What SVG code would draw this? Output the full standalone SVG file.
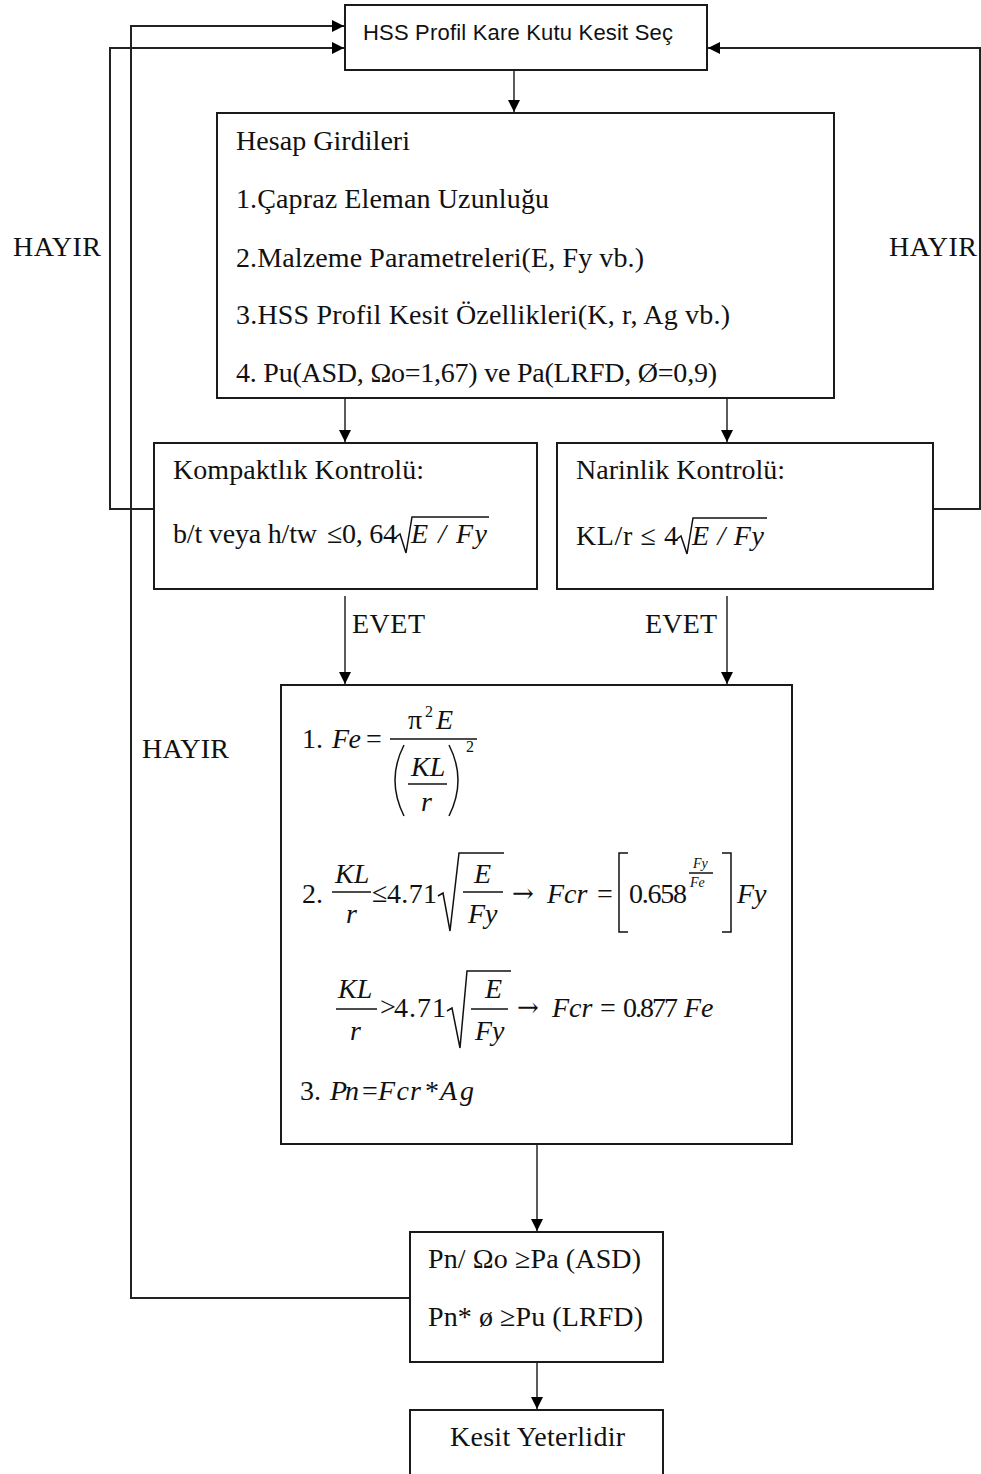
<svg xmlns="http://www.w3.org/2000/svg" width="981" height="1474" viewBox="0 0 981 1474">
<style>
.box{fill:#fff;stroke:#1a1a1a;stroke-width:2}
.con{fill:none;stroke:#333;stroke-width:1.6}
.loop{fill:none;stroke:#222;stroke-width:2}
.t{font-family:"Liberation Serif","Times New Roman",serif;font-size:28px;fill:#111}
.s{font-family:"Liberation Sans",Arial,sans-serif;font-size:22px;fill:#111}
.i{font-style:italic}
.sm{font-size:16px}
.xs{font-size:14px}
.ar{font-family:"DejaVu Serif",serif;font-size:26px}
.bar{stroke:#111;stroke-width:1.5;fill:none}
</style>
<defs>
<marker id="ah" viewBox="0 0 10 10" refX="10" refY="5" markerWidth="12" markerHeight="12" markerUnits="userSpaceOnUse" orient="auto">
<path d="M0,0 L10,5 L0,10 z" fill="#000"/>
</marker>
</defs>
<rect width="981" height="1474" fill="#fff"/>

<g id="connectors">
<path class="con" d="M514,70 V112" marker-end="url(#ah)"/>
<path class="con" d="M345,398 V442" marker-end="url(#ah)"/>
<path class="con" d="M727,398 V442" marker-end="url(#ah)"/>
<path class="con" d="M345,596 V684" marker-end="url(#ah)"/>
<path class="con" d="M727,596 V684" marker-end="url(#ah)"/>
<path class="con" d="M537,1144 V1231" marker-end="url(#ah)"/>
<path class="con" d="M537,1362 V1409" marker-end="url(#ah)"/>
<path class="loop" d="M154,509 H110 V48 H344" marker-end="url(#ah)"/>
<path class="loop" d="M410,1298 H131 V26 H344" marker-end="url(#ah)"/>
<path class="loop" d="M933,509 H980 V48 H708" marker-end="url(#ah)"/>
<text class="t" x="13" y="256" textLength="88">HAYIR</text>
<text class="t" x="889" y="256" textLength="88">HAYIR</text>
<text class="t" x="142" y="758" textLength="87">HAYIR</text>
<text class="t" x="352" y="633" textLength="73">EVET</text>
<text class="t" x="645" y="633" textLength="72">EVET</text>
</g>

<g id="select">
<rect class="box" x="345" y="5" width="362" height="65"/>
<text class="s" x="363" y="40" textLength="310">HSS Profil Kare Kutu Kesit Seç</text>
</g>

<g id="inputs">
<rect class="box" x="217" y="113" width="617" height="285"/>
<text class="t" x="236" y="150" textLength="174">Hesap Girdileri</text>
<text class="t" x="236" y="208" textLength="313">1.Çapraz Eleman Uzunluğu</text>
<text class="t" x="236" y="267" textLength="408">2.Malzeme Parametreleri(E, Fy vb.)</text>
<text class="t" x="236" y="324" textLength="494">3.HSS Profil Kesit Özellikleri(K, r, Ag vb.)</text>
<text class="t" x="236" y="382" textLength="481">4. Pu(ASD, Ωo=1,67) ve Pa(LRFD, Ø=0,9)</text>
</g>

<g id="compact">
<rect class="box" x="154" y="443" width="383" height="146"/>
<text class="t" x="173" y="479" textLength="251">Kompaktlık Kontrolü:</text>
<text class="t" x="173" y="543" textLength="144">b/t veya h/tw</text>
<text class="t" x="327" y="543" textLength="70">≤0, 64</text>
<path class="bar" d="M396,537 L400,534 L406,553 L412,517 H489"/>
<text class="t i" x="411" y="543" textLength="76">E / Fy</text>
</g>

<g id="slender">
<rect class="box" x="557" y="443" width="376" height="146"/>
<text class="t" x="576" y="479" textLength="209">Narinlik Kontrolü:</text>
<text class="t" x="576" y="545" textLength="102">KL/r ≤ 4</text>
<path class="bar" d="M677,539 L681,536 L687,554 L693,518 H767"/>
<text class="t i" x="692" y="545" textLength="72">E / Fy</text>
</g>

<g id="formulas">
<rect class="box" x="281" y="685" width="511" height="459"/>
<!-- 1 -->
<text class="t" x="302" y="748">1.</text>
<text class="t i" x="332" y="748" textLength="29">Fe</text>
<text class="t" x="366" y="748">=</text>
<text class="t" x="408" y="729">π</text>
<text class="t sm" x="425" y="717">2</text>
<text class="t i" x="436" y="729">E</text>
<line class="bar" x1="390" y1="739" x2="477" y2="739"/>
<path class="bar" d="M404,745 Q386,780 404,816"/>
<path class="bar" d="M449,745 Q467,780 449,816"/>
<text class="t i" x="411" y="776">KL</text>
<line class="bar" x1="408" y1="784" x2="447" y2="784"/>
<text class="t i" x="421" y="811">r</text>
<text class="t sm" x="466" y="752">2</text>
<!-- 2 -->
<text class="t" x="302" y="903">2.</text>
<text class="t i" x="335" y="883">KL</text>
<line class="bar" x1="332" y1="892" x2="371" y2="892"/>
<text class="t i" x="346" y="923">r</text>
<text class="t" x="372" y="902" font-size="20">≤</text>
<text class="t" x="387" y="903" textLength="50">4.71</text>
<path class="bar" d="M438,896 L443,893 L450,931 L459,853 H504"/>
<text class="t i" x="474" y="883">E</text>
<line class="bar" x1="463" y1="892" x2="503" y2="892"/>
<text class="t i" x="468" y="923">Fy</text>
<text class="t ar" x="512" y="902" textLength="30">→</text>
<text class="t i" x="547" y="903">Fcr</text>
<text class="t" x="597" y="903">=</text>
<path class="bar" d="M628,853 H619 V932 H628"/>
<text class="t" x="629" y="903" textLength="58">0.658</text>
<text class="t i xs" x="693" y="868">Fy</text>
<line class="bar" x1="689" y1="873" x2="713" y2="873" stroke-width="1"/>
<text class="t i xs" x="690" y="887">Fe</text>
<path class="bar" d="M722,853 H731 V932 H722"/>
<text class="t i" x="737" y="903">Fy</text>
<!-- 2b -->
<text class="t i" x="338" y="998">KL</text>
<line class="bar" x1="336" y1="1009" x2="377" y2="1009"/>
<text class="t i" x="350" y="1040">r</text>
<text class="t" x="380" y="1016" font-size="21">&gt;</text>
<text class="t" x="394" y="1017" textLength="52">4.71</text>
<path class="bar" d="M447,1011 L452,1008 L460,1048 L467,971 H511"/>
<text class="t i" x="485" y="998">E</text>
<line class="bar" x1="471" y1="1009" x2="508" y2="1009"/>
<text class="t i" x="475" y="1040">Fy</text>
<text class="t ar" x="517" y="1016" textLength="30">→</text>
<text class="t i" x="552" y="1017">Fcr</text>
<text class="t" x="600" y="1017">=</text>
<text class="t" x="623" y="1017" textLength="55">0.877</text>
<text class="t i" x="684" y="1017">Fe</text>
<!-- 3 -->
<text class="t" x="300" y="1100">3.</text>
<text class="t i" x="330" y="1100" textLength="29">Pn</text>
<text class="t" x="362" y="1100" textLength="13">=</text>
<text class="t i" x="378" y="1100" textLength="43">Fcr</text>
<text class="t" x="425" y="1100">*</text>
<text class="t i" x="440" y="1100" font-size="30" letter-spacing="3">Ag</text>
</g>

<g id="check">
<rect class="box" x="410" y="1232" width="253" height="130"/>
<text class="t" x="428" y="1268" textLength="213">Pn/ Ωo ≥Pa (ASD)</text>
<text class="t" x="428" y="1326" textLength="215">Pn* ø ≥Pu (LRFD)</text>
</g>

<g id="result">
<rect class="box" x="410" y="1410" width="253" height="80"/>
<text class="t" x="450" y="1446" textLength="175">Kesit Yeterlidir</text>
</g>
</svg>
